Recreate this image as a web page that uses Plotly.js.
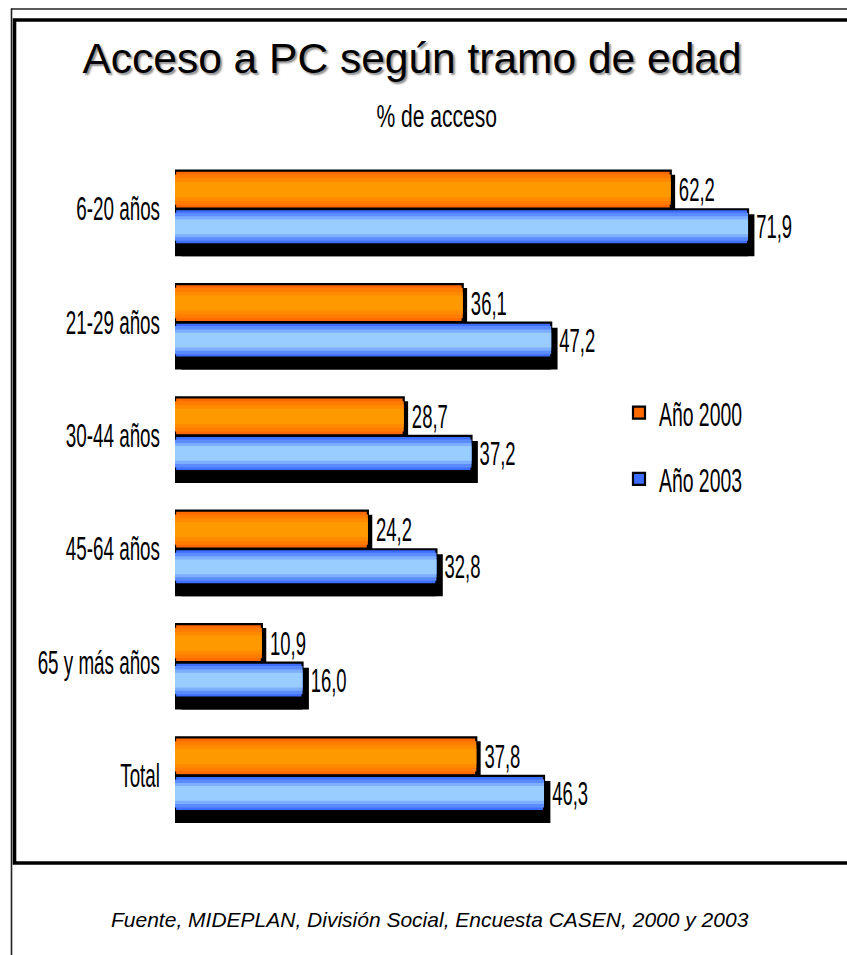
<!DOCTYPE html>
<html>
<head>
<meta charset="utf-8">
<script src="https://cdn.plot.ly/plotly-3.0.1.min.js"></script>
<style>
  html, body { margin: 0; padding: 0; background: #ffffff; }
  #chart { width: 847px; height: 955px; }
</style>
</head>
<body>
<div id="chart"></div>
<script>
// ---- data ----
const categories = ['6-20 años', '21-29 años', '30-44 años', '45-64 años', '65 y más años', 'Total'];
const year2000 = [62.2, 36.1, 28.7, 24.2, 10.9, 37.8];
const year2003 = [71.9, 47.2, 37.2, 32.8, 16.0, 46.3];
const seriesNames = ['Año 2000', 'Año 2003'];
const titleText = 'Acceso a PC según tramo de edad';
const subtitleText = '% de acceso';
const sourceText = 'Fuente, MIDEPLAN, División Social, Encuesta CASEN, 2000 y 2003';

// ---- geometry / style ----
const W = 847, H = 955;
const M = { l: 175, r: 17, t: 152, b: 123 };
const plotW = W - M.l - M.r, plotH = H - M.t - M.b;
const px2x = px => (px - M.l) / plotW;
const py2y = py => (H - M.b - py) / plotH;

const ARIAL = "'Liberation Sans', Arial, sans-serif";

const orangeSlot = { offset: -0.335, width: 0.335 };
const blueSlot = { offset: 0.005, width: 0.31 };
const orangeLayers = [
  { f: 1.0, c: '#FF6A00' }, { f: 0.8, c: '#FF7C00' }, { f: 0.6, c: '#FF8A00' }, { f: 0.4, c: '#FF9900' }
];
const blueLayers = [
  { f: 1.0, c: '#3D6EFF' }, { f: 0.8, c: '#5B8CFF' }, { f: 0.6, c: '#7DAEFF' }, { f: 0.42, c: '#99CCFF' }
];

const traces = [];

function shadow(values, slot, dx) {
  [0, dx].forEach(b => {
    traces.push({
      type: 'bar', orientation: 'h', y: categories, x: values, base: b,
      offset: slot.offset, width: slot.width,
      marker: { color: '#000000', line: { width: 0 } },
      showlegend: false, hoverinfo: 'skip', textposition: 'none'
    });
  });
}

function series(values, name, slot, layers, group) {
  layers.forEach((L, i) => {
    const w = slot.width * L.f;
    const off = slot.offset + (slot.width - w) / 2;
    const t = {
      type: 'bar', orientation: 'h', y: categories, x: values, name: name,
      offset: off, width: w, legendgroup: group,
      marker: { color: L.c, line: { color: '#000000', width: i === 0 ? 2.2 : 0 } },
      showlegend: i === 0, hoverinfo: 'skip'
    };
    if (i === 0) {
      t.texttemplate = '\u00a0%{x:.1f}';
      t.textposition = 'outside';
      t.constraintext = 'none';
      t.cliponaxis = false;
      t.textfont = { family: ARIAL, size: 33, color: '#000000' };
    } else {
      t.textposition = 'none';
    }
    traces.push(t);
  });
}

shadow(year2000, { offset: -0.30, width: 0.33 }, 0.55);
shadow(year2003, { offset: 0.05, width: 0.37 }, 0.8);
series(year2000, seriesNames[0], orangeSlot, orangeLayers, 'g2000');
series(year2003, seriesNames[1], blueSlot, blueLayers, 'g2003');

const shapes = [
  { type: 'line', xref: 'paper', yref: 'paper', x0: px2x(11.5), x1: px2x(11.5), y0: py2y(8.5), y1: py2y(960),
    line: { color: '#222222', width: 1.6 } },
  { type: 'line', xref: 'paper', yref: 'paper', x0: px2x(11), x1: px2x(860), y0: py2y(9), y1: py2y(9),
    line: { color: '#222222', width: 1.6 } },
  { type: 'rect', xref: 'paper', yref: 'paper', x0: px2x(14.5), x1: px2x(870), y0: py2y(20), y1: py2y(863),
    line: { color: '#000000', width: 3.6 }, fillcolor: 'rgba(0,0,0,0)' }
];

const annotations = [
  { text: subtitleText, xref: 'paper', yref: 'paper', x: px2x(437), y: py2y(117),
    xanchor: 'center', yanchor: 'middle', showarrow: false,
    font: { family: ARIAL, size: 31, color: '#000000' } },
  { text: sourceText, xref: 'paper', yref: 'paper', x: px2x(430), y: py2y(919),
    xanchor: 'center', yanchor: 'middle', showarrow: false,
    font: { family: ARIAL, size: 21, style: 'italic', color: '#000000' } }
];

const layout = {
  width: W, height: H,
  margin: M,
  paper_bgcolor: '#ffffff', plot_bgcolor: 'rgba(0,0,0,0)',
  barmode: 'overlay',
  separators: ',.',
  showlegend: true,
  title: {
    text: titleText,
    font: { family: ARIAL, size: 42.5, color: '#000000', shadow: '2px 2px 2px #8c8c8c' },
    xref: 'container', yref: 'container', x: 412 / W, y: 1 - 58 / H,
    xanchor: 'center', yanchor: 'middle'
  },
  xaxis: { range: [0, plotW / 7.97], visible: false, fixedrange: true },
  yaxis: {
    type: 'category', range: [5.5, -0.5],
    showgrid: false, zeroline: false, showline: false,
    ticks: '', ticklabelstandoff: 14,
    tickfont: { family: ARIAL, size: 33, color: '#000000' },
    fixedrange: true
  },
  legend: {
    x: px2x(619), y: py2y(384), xanchor: 'left', yanchor: 'top',
    traceorder: 'grouped', tracegroupgap: 19,
    font: { family: ARIAL, size: 34, color: '#000000' },
    bgcolor: 'rgba(0,0,0,0)', borderwidth: 0
  },
  shapes: shapes,
  annotations: annotations
};

// The source uses a tall, strongly condensed face; squeeze real text horizontally.
function condense(el, factor, keep) {
  const b0 = el.getBBox();
  const len = el.getComputedTextLength();
  if (!len) return;
  el.setAttribute('textLength', (len * factor).toFixed(2));
  el.setAttribute('lengthAdjust', 'spacingAndGlyphs');
  const b1 = el.getBBox();
  let dx;
  if (keep === 'left') dx = b0.x - b1.x;
  else if (keep === 'right') dx = (b0.x + b0.width) - (b1.x + b1.width);
  else dx = (b0.x + b0.width / 2) - (b1.x + b1.width / 2);
  const x = parseFloat(el.getAttribute('x') || '0');
  el.setAttribute('x', (x + dx).toFixed(2));
}

Plotly.newPlot('chart', traces, layout, { displayModeBar: false, staticPlot: true }).then(gd => {
  gd.querySelectorAll('g.ytick text').forEach(t => condense(t, 0.57, 'right'));
  gd.querySelectorAll('text.bartext').forEach(t => condense(t, 0.56, 'left'));
  gd.querySelectorAll('text.legendtext').forEach(t => condense(t, 0.57, 'left'));
  const ann = gd.querySelectorAll('g.annotation text.annotation-text');
  if (ann[0]) condense(ann[0], 0.68, 'center');
});
</script>
</body>
</html>
